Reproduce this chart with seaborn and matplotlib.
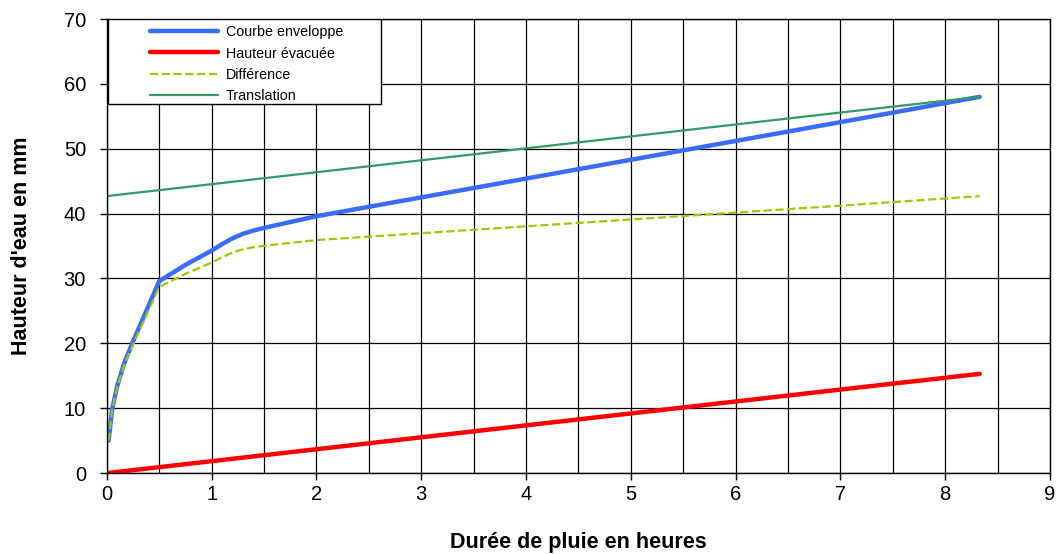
import numpy as np
import pandas as pd
import matplotlib
matplotlib.use("Agg")
import matplotlib.pyplot as plt
import seaborn as sns
from matplotlib.patches import Rectangle

# durations (h) and heights (mm)
duree = [0.0167, 0.05, 0.1, 0.167, 0.25, 0.5, 0.75, 1.0, 1.1, 1.2, 1.3, 1.4, 1.5,
         2.0, 3.0, 4.0, 5.0, 6.0, 7.0, 8.33]
enveloppe = [5.0, 9.8, 13.5, 17.0, 20.3, 29.6, 32.1, 34.3, 35.3, 36.2, 36.9, 37.4, 37.8,
             39.6, 42.5, 45.4, 48.3, 51.2, 54.1, 58.0]
evacuee = [0.03, 0.09, 0.18, 0.31, 0.46, 0.92, 1.38, 1.84, 2.02, 2.21, 2.39, 2.58, 2.76,
           3.68, 5.52, 7.36, 9.2, 11.04, 12.88, 15.3]
difference = [4.97, 9.71, 13.32, 16.69, 19.84, 28.68, 30.72, 32.46, 33.28, 33.99, 34.51, 34.82, 35.04,
              35.92, 36.98, 38.04, 39.1, 40.16, 41.22, 42.7]
translation = [42.7, 42.79, 42.88, 43.01, 43.16, 43.62, 44.08, 44.54, 44.72, 44.91, 45.09, 45.28, 45.46,
               46.38, 48.22, 50.06, 51.9, 53.74, 55.58, 58.0]

df = pd.DataFrame({"t": duree, "env": enveloppe, "evac": evacuee,
                   "diff": difference, "trans": translation})

sns.set_style("white", {"text.color": "black", "axes.labelcolor": "black",
                        "xtick.color": "black", "ytick.color": "black"})
plt.rcParams['font.family'] = ['Liberation Sans', 'DejaVu Sans']

fig = plt.figure(figsize=(10.58, 5.54), dpi=100)
ax = fig.add_axes([0.101, 0.146, 0.8914, 0.8197])

sns.lineplot(data=df, x="t", y="env", ax=ax, color="#3A6BFF", lw=3.2, label="Courbe enveloppe", solid_capstyle="round")
sns.lineplot(data=df, x="t", y="evac", ax=ax, color="#FF0000", lw=3.2, label="Hauteur évacuée")
sns.lineplot(data=df, x="t", y="diff", ax=ax, color="#99CC00", lw=1.6, ls="--", label="Différence")
sns.lineplot(data=df, x="t", y="trans", ax=ax, color="#339966", lw=1.6, label="Translation")

ax.set_xlim(0, 9)
ax.set_ylim(0, 70)
ax.set_xticks(range(0, 10))
ax.set_xticks(np.arange(0.5, 9, 1), minor=True)
ax.set_yticks(range(0, 80, 10))
ax.grid(True, which="both", axis="x", color="black", lw=0.9)
ax.grid(True, which="major", axis="y", color="black", lw=0.9)
ax.set_axisbelow(True)
for s in ax.spines.values():
    s.set_color("black")
    s.set_linewidth(1.0)
ax.tick_params(axis="both", which="major", direction="out", length=5, width=1,
               labelsize=14.5, color="black", labelcolor="black", bottom=True, left=True)
ax.tick_params(axis="y", which="major", pad=10)
ax.tick_params(axis="x", which="minor", length=0)

ax.set_xlabel("Durée de pluie en heures", fontsize=15.5, fontweight="bold", labelpad=20, color="black")
ax.set_ylabel("Hauteur d'eau en mm", fontsize=15.5, fontweight="bold", labelpad=23, color="black")

ax.add_patch(Rectangle((0.001, 0.8125), 0.29, 0.187, transform=ax.transAxes,
                       facecolor="white", edgecolor="black", lw=1.0, zorder=4))
leg = ax.legend(loc="upper left", bbox_to_anchor=(0.0326, 1.015), frameon=False,
                fontsize=10.3, handlelength=4.75, handletextpad=0.5, labelspacing=0.52,
                labelcolor="black")
leg.set_zorder(5)

fig.savefig("out.png", dpi=100)
